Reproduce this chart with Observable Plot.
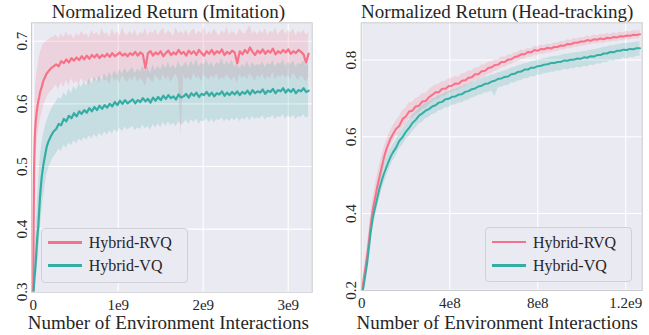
<!DOCTYPE html>
<html><head><meta charset="utf-8">
<script src="https://cdn.jsdelivr.net/npm/d3@7"></script>
<script src="https://cdn.jsdelivr.net/npm/@observablehq/plot@0.6"></script>
<style>
body{margin:0;background:#fff;width:649px;height:335px;overflow:hidden;position:relative;font-family:"Liberation Serif","Times New Roman",serif;color:#262626}
.panel{position:absolute;top:0}
.title,.xlabel{position:absolute;font-size:19px;line-height:19px;white-space:nowrap;text-align:center;width:340px}
.legend{position:absolute;border:1px solid #d0d0d6;border-radius:4px;background:rgba(234,234,242,0.8);box-sizing:border-box;width:147px;height:55px}
.item{position:absolute;font-size:16px;line-height:16px;white-space:nowrap;left:47px}
.sw{position:absolute;height:2.5px;left:6px;width:34px}
</style></head><body>
<div id="left" class="panel" style="left:0"></div>
<div id="right" class="panel" style="left:330px"></div>
<script>
// ---------- data: x in units of 1e7 environment interactions ----------
const seriesNames = ["Hybrid-RVQ", "Hybrid-VQ"];
const seriesColors = ["#f77189", "#36ada4"];
const titles = ["Normalized Return (Imitation)", "Normalized Return (Head-tracking)"];
const xAxisLabel = "Number of Environment Interactions";

// Imitation panel
const imX = [0,.3,.6,1,1.5,2,2.5,3,4,5,
 6,7,8,10,12,14,16,18,21,24,
 27,30,33,36,39,42,45,48,51,54,
 57,60,63,66,69,72,75,78,81,84,
 87,90,93,96,99,102,105,108,111,114,
 117,120,123,126,129,132,135,138,141,144,
 147,150,153,156,159,162,165,168,171,174,
 177,180,183,186,189,192,195,198,201,204,
 207,210,213,216,219,222,225,228,231,234,
 237,240,243,246,249,252,255,258,261,264,
 267,270,273,276,279,282,285,288,291,294,
 297,300,303,306,309,312,315,318,321,324];
const imRVQ = [.295,.36,.43,.49,.525,.55,.562,.572,.585,.596,
 .604,.61,.618,.627,.637,.643,.649,.652,.657,.66,
 .663,.660,.668,.665,.671,.666,.673,.669,.674,.670,
 .676,.671,.677,.672,.678,.674,.679,.673,.678,.675,
 .680,.675,.681,.676,.679,.682,.677,.680,.676,.681,
 .678,.683,.677,.682,.679,.657,.681,.684,.677,.682,
 .679,.684,.676,.681,.685,.678,.682,.679,.686,.680,
 .683,.677,.685,.680,.684,.678,.686,.681,.677,.684,
 .680,.686,.679,.684,.681,.687,.678,.683,.680,.685,
 .682,.665,.684,.679,.686,.681,.690,.683,.678,.685,
 .681,.687,.680,.685,.682,.688,.679,.684,.681,.686,
 .682,.687,.680,.684,.681,.686,.683,.679,.666,.680];
const imRVQlo = [.29,.32,.37,.42,.46,.49,.505,.515,.53,.545,
 .555,.565,.572,.585,.595,.603,.61,.615,.62,.625,
 .63,.622,.634,.626,.638,.628,.64,.632,.636,.63,
 .641,.633,.637,.629,.643,.635,.64,.632,.645,.636,
 .639,.631,.644,.636,.64,.633,.646,.638,.634,.642,
 .637,.645,.634,.641,.636,.628,.643,.639,.633,.646,
 .64,.635,.647,.638,.644,.634,.641,.648,.637,.548,
 .646,.638,.642,.636,.649,.64,.644,.635,.647,.641,
 .638,.645,.64,.648,.636,.643,.639,.647,.641,.637,
 .644,.632,.647,.64,.645,.638,.649,.642,.636,.646,
 .641,.648,.637,.644,.64,.65,.638,.645,.642,.647,
 .64,.646,.638,.649,.643,.637,.645,.641,.635,.643];
const imRVQhi = [.30,.40,.48,.54,.58,.60,.615,.63,.645,.655,
 .665,.672,.68,.688,.695,.698,.70,.702,.705,.707,
 .71,.704,.712,.706,.715,.708,.711,.703,.713,.707,
 .716,.709,.712,.705,.718,.71,.714,.707,.72,.711,
 .713,.706,.719,.71,.715,.708,.721,.712,.709,.716,
 .71,.718,.707,.714,.711,.72,.708,.716,.712,.719,
 .709,.715,.721,.71,.717,.713,.708,.722,.712,.716,
 .711,.718,.709,.715,.72,.71,.716,.712,.723,.709,
 .715,.711,.719,.713,.708,.717,.712,.722,.71,.716,
 .713,.709,.72,.714,.711,.718,.725,.712,.716,.71,
 .717,.712,.72,.709,.716,.713,.721,.71,.715,.719,
 .711,.717,.713,.72,.709,.716,.712,.718,.71,.714];
const imVQ = [.29,.297,.304,.312,.322,.33,.338,.347,.37,.39,
 .405,.428,.452,.483,.503,.518,.532,.54,.549,.556,
 .560,.568,.566,.576,.572,.581,.577,.585,.580,.588,
 .584,.590,.586,.593,.588,.595,.590,.597,.592,.598,
 .594,.600,.596,.603,.598,.605,.600,.606,.601,.604,
 .607,.601,.606,.603,.609,.604,.608,.602,.610,.605,
 .611,.606,.613,.608,.614,.609,.612,.607,.615,.610,
 .612,.616,.610,.617,.613,.618,.611,.616,.614,.619,
 .613,.618,.612,.617,.615,.620,.613,.618,.614,.619,
 .615,.620,.614,.619,.616,.621,.615,.622,.617,.620,
 .618,.623,.616,.621,.619,.624,.617,.622,.620,.625,
 .618,.623,.619,.624,.617,.622,.620,.625,.619,.621];
const imVQlo = [.285,.288,.292,.296,.30,.305,.31,.315,.325,.34,
 .355,.375,.395,.425,.45,.47,.487,.497,.507,.515,
 .52,.528,.524,.534,.529,.538,.533,.541,.536,.544,
 .54,.546,.542,.549,.544,.551,.546,.553,.548,.555,
 .55,.557,.552,.559,.554,.561,.556,.563,.558,.561,
 .564,.557,.562,.559,.566,.56,.564,.558,.567,.561,
 .568,.562,.57,.564,.571,.565,.569,.563,.572,.566,
 .569,.574,.567,.575,.57,.576,.568,.573,.571,.577,
 .57,.576,.569,.575,.573,.578,.571,.576,.572,.577,
 .573,.578,.572,.577,.574,.579,.573,.58,.575,.578,
 .576,.581,.574,.579,.577,.582,.575,.58,.578,.583,
 .576,.581,.577,.582,.575,.58,.578,.583,.577,.579];
const imVQhi = [.30,.31,.32,.335,.35,.365,.38,.395,.42,.445,
 .465,.49,.51,.535,.55,.562,.572,.58,.59,.597,
 .603,.61,.607,.618,.612,.624,.617,.628,.621,.632,
 .626,.635,.629,.64,.632,.643,.636,.645,.638,.648,
 .64,.65,.643,.653,.645,.655,.647,.657,.649,.654,
 .658,.648,.656,.651,.66,.652,.658,.649,.662,.653,
 .66,.654,.664,.656,.666,.657,.662,.655,.668,.658,
 .661,.667,.658,.669,.66,.671,.659,.665,.662,.67,
 .66,.667,.658,.666,.663,.672,.66,.668,.662,.67,
 .658,.664,.656,.663,.659,.668,.657,.666,.66,.663,
 .661,.667,.658,.665,.662,.669,.659,.666,.663,.67,
 .66,.667,.662,.668,.659,.665,.663,.669,.661,.664];
const imXTicks = [0, 100, 200, 300];
const imXTickLabels = ["0", "1e9", "2e9", "3e9"];
const imYTicks = [0.3, 0.4, 0.5, 0.6, 0.7];

// Head-tracking panel
const htX = [0,.4,.8,1.2,1.6,2,2.5,3,3.5,4,
 4.5,5,6,7,8,9,10,11,12,13,
 14,15.5,17,18.5,20,21.5,23,24.5,26,27.5,
 29,30.5,32,33.5,35,36.5,38,39.5,41,42.5,
 44,45.5,47,48.5,50,51.5,53,54.5,56,57.5,
 59,60.5,62,63.5,65,66.5,68,69.5,71,72.5,
 74,75.5,77,78.5,80,81.5,83,84.5,86,87.5,
 89,90.5,92,93.5,95,96.5,98,99.5,101,102.5,
 104,105.5,107,108.5,110,111.5,113,114.5,116,117.5,
 119,120.5,122,123.5,125,126.5];
const htRVQ = [.20,.213,.228,.243,.258,.273,.293,.318,.343,.368,
 .39,.41,.44,.47,.495,.52,.545,.565,.58,.595,
 .605,.62,.628,.646,.653,.666,.668,.679,.681,.692,
 .693,.703,.709,.716,.716,.725,.725,.732,.733,.739,
 .738,.746,.747,.754,.755,.763,.763,.771,.772,.779,
 .781,.787,.788,.795,.795,.801,.802,.808,.81,.815,
 .815,.821,.82,.826,.824,.829,.828,.832,.83,.834,
 .834,.838,.837,.842,.841,.845,.845,.848,.848,.852,
 .85,.854,.853,.856,.854,.858,.857,.86,.859,.862,
 .861,.864,.863,.866,.865,.867];
const htRVQlo = [.195,.203,.213,.225,.238,.25,.27,.292,.316,.34,
 .362,.383,.413,.443,.468,.494,.52,.542,.558,.574,
 .585,.6,.608,.625,.633,.646,.648,.659,.662,.672,
 .674,.684,.69,.697,.698,.706,.707,.714,.715,.721,
 .721,.728,.73,.737,.738,.746,.747,.754,.756,.763,
 .765,.771,.773,.78,.781,.787,.788,.794,.796,.801,
 .802,.807,.807,.812,.811,.816,.815,.819,.818,.822,
 .822,.826,.825,.83,.829,.833,.833,.836,.836,.84,
 .839,.843,.842,.845,.843,.847,.846,.849,.848,.851,
 .85,.853,.852,.855,.854,.856];
const htRVQhi = [.205,.225,.245,.262,.28,.297,.318,.345,.372,.398,
 .42,.44,.47,.50,.525,.548,.57,.588,.602,.616,
 .627,.642,.652,.668,.674,.688,.69,.70,.703,.712,
 .713,.722,.73,.735,.737,.745,.744,.752,.751,.758,
 .755,.764,.765,.772,.771,.78,.779,.787,.787,.794,
 .795,.801,.801,.808,.807,.813,.813,.819,.82,.826,
 .825,.831,.829,.836,.834,.839,.837,.842,.84,.845,
 .844,.849,.847,.853,.851,.856,.855,.859,.858,.863,
 .86,.865,.863,.867,.865,.869,.867,.871,.869,.873,
 .871,.875,.873,.877,.875,.878];
const htVQ = [.19,.20,.21,.225,.24,.255,.275,.30,.325,.35,
 .37,.39,.415,.44,.465,.485,.503,.518,.533,.547,
 .558,.571,.589,.599,.613,.623,.636,.644,.655,.661,
 .668,.672,.679,.682,.689,.691,.698,.699,.704,.705,
 .71,.711,.717,.719,.724,.726,.731,.733,.738,.739,
 .744,.746,.751,.752,.756,.757,.763,.764,.769,.77,
 .775,.775,.78,.78,.784,.785,.788,.789,.792,.792,
 .795,.795,.799,.798,.801,.801,.804,.803,.807,.806,
 .81,.809,.813,.813,.817,.817,.821,.82,.824,.824,
 .827,.826,.829,.828,.831,.831];
const htVQlo = [.185,.19,.196,.208,.222,.236,.254,.277,.3,.325,
 .344,.363,.387,.412,.437,.458,.477,.493,.509,.524,
 .536,.549,.568,.578,.592,.601,.614,.622,.633,.638,
 .647,.65,.658,.66,.668,.669,.676,.675,.682,.683,
 .688,.688,.694,.696,.701,.703,.708,.709,.715,.715,
 .72,.705,.728,.729,.733,.733,.74,.74,.746,.746,
 .752,.751,.757,.756,.761,.761,.765,.765,.769,.768,
 .772,.771,.776,.774,.778,.777,.781,.779,.784,.782,
 .787,.785,.79,.789,.794,.793,.798,.796,.801,.8,
 .805,.802,.807,.805,.81,.809];
const htVQhi = [.195,.21,.225,.242,.258,.275,.297,.323,.35,.375,
 .396,.417,.443,.468,.492,.511,.528,.542,.556,.568,
 .578,.592,.609,.62,.633,.643,.656,.664,.674,.681,
 .686,.691,.697,.701,.707,.709,.715,.717,.721,.723,
 .727,.729,.734,.737,.741,.744,.748,.751,.755,.757,
 .761,.763,.767,.769,.772,.774,.779,.781,.785,.787,
 .79,.792,.795,.797,.8,.801,.804,.805,.808,.809,
 .81,.812,.815,.815,.817,.818,.82,.82,.823,.823,
 .826,.826,.829,.83,.833,.834,.837,.837,.84,.841,
 .843,.843,.845,.845,.847,.848];
const htXTicks = [0, 40, 80, 120];
const htXTickLabels = ["0", "4e8", "8e8", "1.2e9"];
const htYTicks = [0.2, 0.4, 0.6, 0.8];

// ---------- drawing ----------
function buildRows(xs, cols) {
  const n = Math.min(xs.length, ...cols.map(c => c.length));
  const rows = [];
  for (let i = 0; i < n; i++) rows.push({x: xs[i], m0: cols[0][i], lo0: cols[1][i], hi0: cols[2][i], m1: cols[3][i], lo1: cols[4][i], hi1: cols[5][i]});
  return rows;
}

function makePanel(cfg) {
  const rows = buildRows(cfg.xs, cfg.cols);
  const marks = [
    Plot.frame({fill: "#eaeaf2"}),
    Plot.gridX(cfg.xTicks, {stroke: "#ffffff", strokeOpacity: 1, strokeWidth: 1.1}),
    Plot.gridY(cfg.yTicks, {stroke: "#ffffff", strokeOpacity: 1, strokeWidth: 1.1})
  ];
  [0, 1].forEach(k => {
    marks.push(Plot.areaY(rows, {x: "x", y1: "lo" + k, y2: "hi" + k, fill: seriesColors[k], fillOpacity: 0.2, clip: true}));
  });
  [0, 1].forEach(k => {
    marks.push(Plot.lineY(rows, {x: "x", y: "m" + k, stroke: seriesColors[k], strokeWidth: cfg.lw, clip: true}));
  });
  marks.push(Plot.frame({stroke: "#cbcbcb", strokeWidth: 1}));
  marks.push(Plot.axisX(cfg.xTicks, {tickFormat: d => cfg.xTickLabels[cfg.xTicks.indexOf(d)], tickSize: 0, tickPadding: 7, fontSize: 15, label: null, fill: "#262626"}));
  marks.push(Plot.axisY(cfg.yTicks, {tickFormat: d => d.toFixed(1), tickRotate: -90, tickSize: 0, tickPadding: 5, fontSize: 15, label: null, fill: "#262626"}));
  const svg = Plot.plot({
    width: cfg.width, height: 335,
    marginLeft: cfg.ml, marginRight: cfg.mr, marginTop: cfg.mt, marginBottom: cfg.mb,
    x: {domain: cfg.xDomain},
    y: {domain: cfg.yDomain},
    style: {fontFamily: "'Liberation Serif', 'Times New Roman', serif", fontSize: "15px", background: "transparent", color: "#262626", overflow: "visible"},
    marks
  });
  const host = document.getElementById(cfg.id);
  host.appendChild(svg);
  const frameCenter = cfg.ml + (cfg.width - cfg.ml - cfg.mr) / 2;
  const t = document.createElement("div");
  t.className = "title"; t.textContent = cfg.title;
  t.style.left = (frameCenter - 170 + cfg.titleShift) + "px"; t.style.top = "2px";
  host.appendChild(t);
  const xl = document.createElement("div");
  xl.className = "xlabel"; xl.textContent = xAxisLabel;
  xl.style.left = (frameCenter - 170 + cfg.titleShift) + "px"; xl.style.top = "313px";
  host.appendChild(xl);
  const lg = document.createElement("div");
  lg.className = "legend";
  lg.style.left = cfg.legend[0] + "px"; lg.style.top = cfg.legend[1] + "px";
  seriesNames.forEach((name, k) => {
    const sw = document.createElement("div");
    sw.className = "sw"; sw.style.background = seriesColors[k]; sw.style.top = (12.5 + 23.3 * k) + "px";
    lg.appendChild(sw);
    const it = document.createElement("div");
    it.className = "item"; it.textContent = name; it.style.top = (6.5 + 23.3 * k) + "px";
    lg.appendChild(it);
  });
  host.appendChild(lg);
}

makePanel({id: "left", title: titles[0], xs: imX, cols: [imRVQ, imRVQlo, imRVQhi, imVQ, imVQlo, imVQhi],
  xTicks: imXTicks, xTickLabels: imXTickLabels, yTicks: imYTicks,
  xDomain: [-2, 328.2], yDomain: [0.2994, 0.7294],
  width: 320, ml: 31, mr: 8.3, mt: 22.3, mb: 43.3, lw: 2.2, titleShift: -3, legend: [40.7, 227.7]});
makePanel({id: "right", title: titles[1], xs: htX, cols: [htRVQ, htRVQlo, htRVQhi, htVQ, htVQlo, htVQhi],
  xTicks: htXTicks, xTickLabels: htXTickLabels, yTicks: htYTicks,
  xDomain: [-0.3, 127.5], yDomain: [0.1994, 0.897],
  width: 319, ml: 30.7, mr: 7.3, mt: 22.3, mb: 45, lw: 2, titleShift: -4, legend: [155, 227.3]});
</script>
</body></html>
